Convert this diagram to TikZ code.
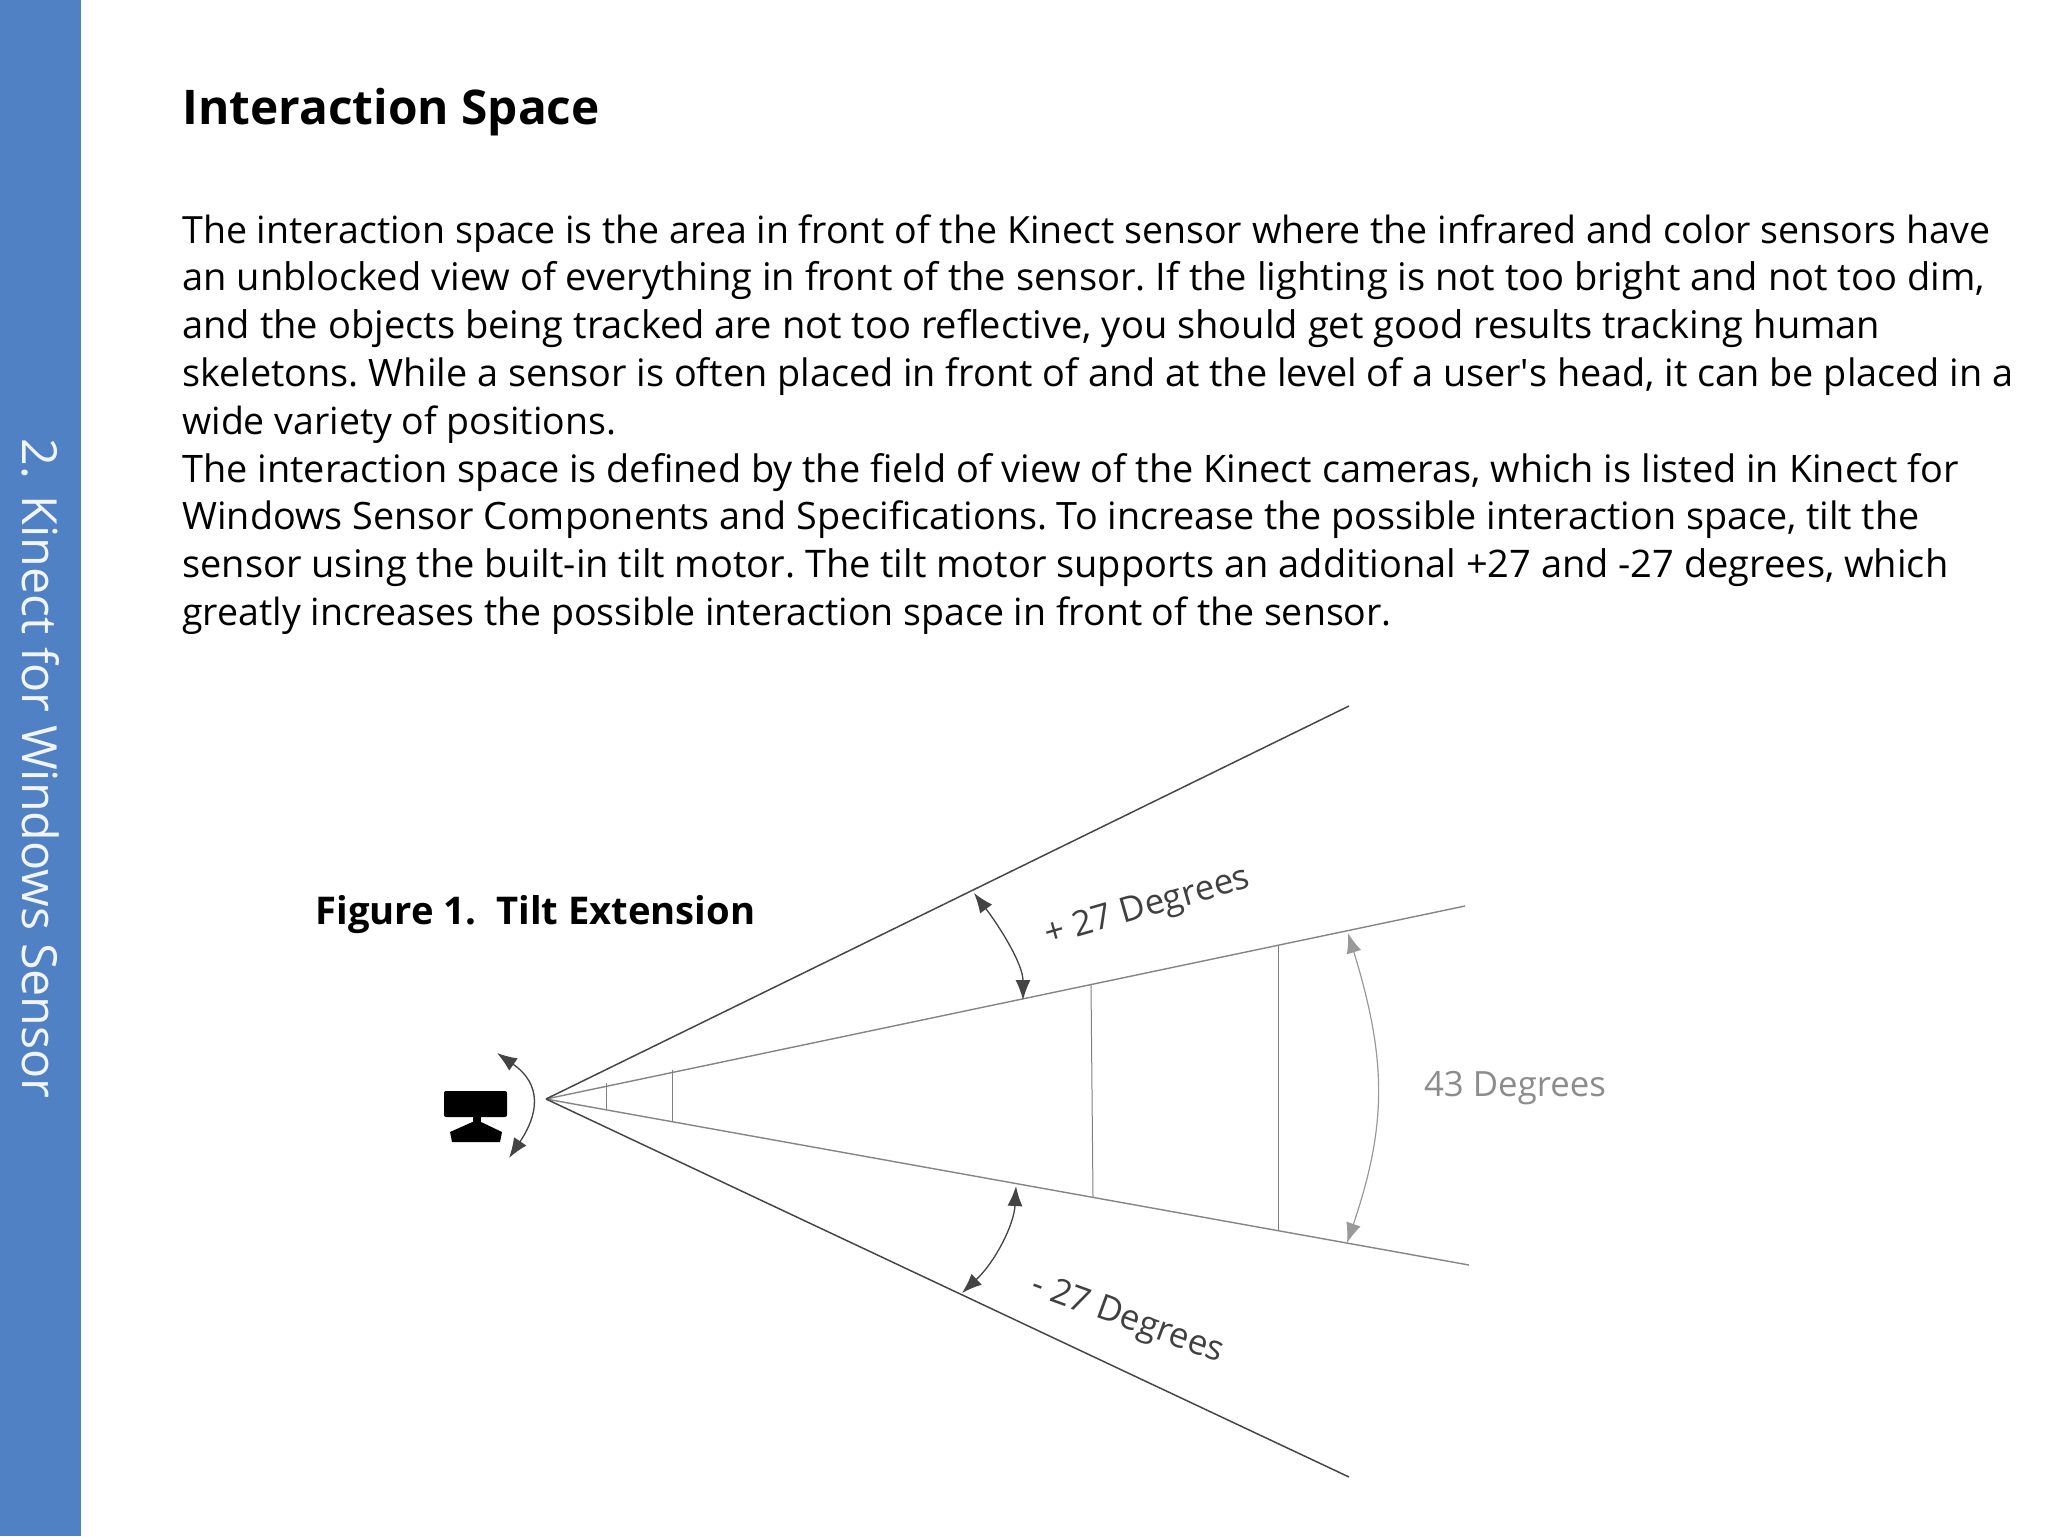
\documentclass[tikz,border=0pt]{standalone}
\usepackage{fontspec}
\usepackage{graphicx}
\setmainfont{Open Sans}
\usetikzlibrary{arrows.meta}
\definecolor{barblue}{HTML}{4F81C4}
\definecolor{darkarr}{HTML}{444444}
\definecolor{greyarr}{HTML}{999999}
\newcommand{\fitline}[2]{\resizebox{#1pt}{!}{#2}}
\tikzset{
 bodyline/.style={anchor=base west,inner sep=0pt,font=\frenchspacing\fontsize{18.85}{22}\selectfont,text=black},
 outerray/.style={draw=black!72,line width=0.75pt},
 innerray/.style={draw=black!48,line width=0.7pt},
 tick/.style={draw=black!50,line width=0.5pt},
 darrow/.style={draw=darkarr,line width=0.65pt,{Latex[length=10pt,width=7.5pt]}-{Latex[length=10pt,width=7.5pt]}},
 garrow/.style={draw=greyarr,line width=0.6pt,{Latex[length=10pt,width=7.5pt]}-{Latex[length=10pt,width=7.5pt]}},
 figlabel/.style={inner sep=0pt,font=\fontsize{17.4}{20}\selectfont},
}
\begin{document}
\begin{tikzpicture}[x=0.5pt,y=-0.5pt]
\useasboundingbox (0,0) rectangle (2048,1536);
\fill[white] (0,0) rectangle (2048,1536);
\fill[barblue] (0,0) rectangle (81,1536);
\node[inner sep=0pt,anchor=base west,rotate=-90,text=white!92!barblue,font=\fontsize{24.2}{28}\selectfont] (side) at (22,438) {2. Kinect for Windows Sensor};
\node[inner sep=0pt,anchor=base west,font=\bfseries\fontsize{23.9}{28}\selectfont] (title) at (182,125) {Interaction Space};
\node[bodyline] (l1) at (182,243) {\fitline{903.8}{The interaction space is the area in front of the Kinect sensor where the infrared and color sensors have}};
\node[bodyline] (l2) at (182,290) {\fitline{901.1}{an unblocked view of everything in front of the sensor. If the lighting is not too bright and not too dim,}};
\node[bodyline] (l3) at (182,338) {\fitline{848.9}{and the objects being tracked are not too reflective, you should get good results tracking human}};
\node[bodyline] (l4) at (182,386) {\fitline{915.5}{skeletons. While a sensor is often placed in front of and at the level of a user\textquotesingle s head, it can be placed in a}};
\node[bodyline] (l5) at (182,434) {\fitline{216.8}{wide variety of positions.}};
\node[bodyline] (l6) at (182,482) {\fitline{888.1}{The interaction space is defined by the field of view of the Kinect cameras, which is listed in Kinect for}};
\node[bodyline] (l7) at (182,529) {\fitline{868.5}{Windows Sensor Components and Specifications. To increase the possible interaction space, tilt the}};
\node[bodyline] (l8) at (182,577) {\fitline{882.9}{sensor using the built-in tilt motor. The tilt motor supports an additional +27 and -27 degrees, which}};
\node[bodyline] (l9) at (182,625) {\fitline{604.7}{greatly increases the possible interaction space in front of the sensor.}};
\node[bodyline,font=\bfseries\fontsize{19.1}{22}\selectfont] (cap) at (315,924) {Figure 1.\ \ Tilt Extension};
% rays
\coordinate (apex) at (546,1099);
\coordinate (outerU) at (1349,706);
\coordinate (outerL) at (1349,1477);
\coordinate (innerU) at (1465,906);
\coordinate (innerL) at (1469,1265);
\draw[innerray] (apex) -- (innerU);
\draw[innerray] (apex) -- (innerL);
\draw[outerray] (apex) -- (outerU);
\draw[outerray] (apex) -- (outerL);
% ticks
\coordinate (t1a) at (606,1083);\coordinate (t1b) at (606,1110);
\coordinate (t2a) at (672,1070);\coordinate (t2b) at (672,1122);
\coordinate (t3a) at (1091,985);\coordinate (t3b) at (1093,1197);
\coordinate (t4a) at (1278.5,946);\coordinate (t4b) at (1278.5,1231);
\draw[tick] (t1a) -- (t1b);
\draw[tick] (t2a) -- (t2b);
\draw[tick] (t3a) -- (t3b);
\draw[tick] (t4a) -- (t4b);
% arrows
\coordinate (a1) at (974,893);\coordinate (a2) at (1023,1000);
\draw[darrow] (a1) .. controls (1002,930) and (1023,965) .. (a2);
\coordinate (b1) at (1016,1186);\coordinate (b2) at (962,1293);
\draw[darrow] (b1) .. controls (1014,1225) and (995,1262) .. (b2);
\coordinate (c1) at (1348,933);\coordinate (c2) at (1347,1243);
\draw[garrow] (c1) .. controls (1387,1060) and (1387,1125) .. (c2);
\coordinate (d1) at (497,1053);\coordinate (d2) at (509,1158);
\draw[darrow] (d1) .. controls (543,1085) and (538,1115) .. (d2);
% sensor
\fill[black,rounded corners=1pt] (444,1091) rectangle (507,1117);
\fill[black] (473,1117) rectangle (481,1122);
\fill[black] (477,1120) -- (502,1132) -- (500,1142) -- (452,1142) -- (450,1132) -- cycle;
% labels
\node[figlabel,text=black!75,rotate=16] (plus) at (1148,908) {+ 27 Degrees};
\node[figlabel,text=black!75,rotate=-20] (minus) at (1127,1320) {- 27 Degrees};
\node[figlabel,text=black!45] (mid) at (1515,1088) {43 Degrees};
\end{tikzpicture}
\end{document}
